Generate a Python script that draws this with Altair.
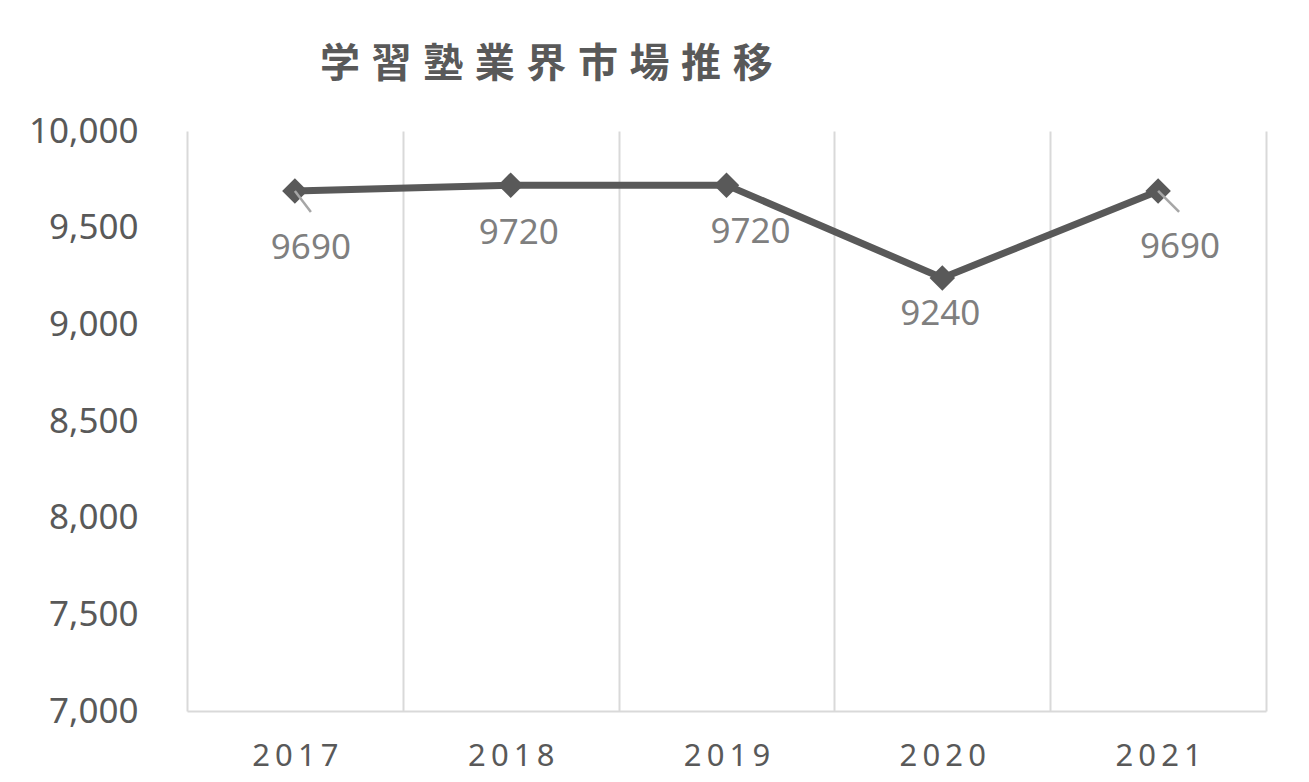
import altair as alt
import pandas as pd

years = ["2017", "2018", "2019", "2020", "2021"]
values = [9690, 9720, 9720, 9240, 9690]
title_text = " \u200a".join("学習塾業界市場推移")

df = pd.DataFrame({"year": years, "value": values})

DARK = "#595959"
LABEL = "#7f7f7f"
GRID = "#d9d9d9"

x_enc = alt.X("year:N", sort=years, title=None,
              scale=alt.Scale(paddingInner=0, paddingOuter=0),
              axis=alt.Axis(labelAngle=0, tickBand="extent", grid=True, gridColor=GRID,
                            gridWidth=2, ticks=False, domainColor=GRID, domainWidth=2,
                            labelFont="Noto Sans", labelFontSize=31, labelColor=DARK,
                            labelPadding=30,
                            labelExpr="join(split(datum.label, ''), '\u2009')"))
y_enc = alt.Y("value:Q", title=None,
              scale=alt.Scale(domain=[7000, 10000], nice=False, zero=False),
              axis=alt.Axis(values=[7000, 7500, 8000, 8500, 9000, 9500, 10000], format=",.0f",
                            grid=False, ticks=False, domain=False,
                            labelFont="Noto Sans", labelFontSize=35, labelColor=DARK,
                            labelPadding=49))

base = alt.Chart(df).encode(x=x_enc, y=y_enc)

line = base.mark_line(color=DARK, strokeWidth=7)
points = base.mark_point(shape="diamond", filled=True, size=650, color=DARK, opacity=1)

leaders = []
for yr, ox, oy in [("2017", 16, 21), ("2021", 21, 21)]:
    leaders.append(
        alt.Chart(df).transform_filter(alt.datum.year == yr).mark_rule(
            color="#a6a6a6", strokeWidth=2.5, x2Offset=ox, y2Offset=oy
        ).encode(x=x_enc, y=y_enc, x2="year:N", y2="value:Q")
    )

labels = []
for yr, dx, dy in [("2017", 16, 57), ("2018", 8, 48), ("2019", 24, 47),
                   ("2020", -2, 36), ("2021", 22, 56)]:
    labels.append(
        alt.Chart(df).transform_filter(alt.datum.year == yr).mark_text(
            font="Noto Sans", fontSize=35, color=LABEL, dx=dx, dy=dy, baseline="middle"
        ).encode(x=x_enc, y=y_enc, text="value:Q")
    )

chart = alt.layer(line, points, *leaders, *labels).properties(
    width=1079, height=580,
    autosize=alt.AutoSizeParams(type="none"),
    padding={"left": 179, "top": 123, "right": 35, "bottom": 63},
    title=alt.TitleParams(title_text, anchor="start", frame="group", dx=133, offset=29,
                          font="Noto Sans CJK JP", fontSize=40, fontWeight="bold",
                          color=DARK),
).configure_view(stroke=None)

chart.save("out.html", embed_options={"renderer": "svg", "actions": False})
